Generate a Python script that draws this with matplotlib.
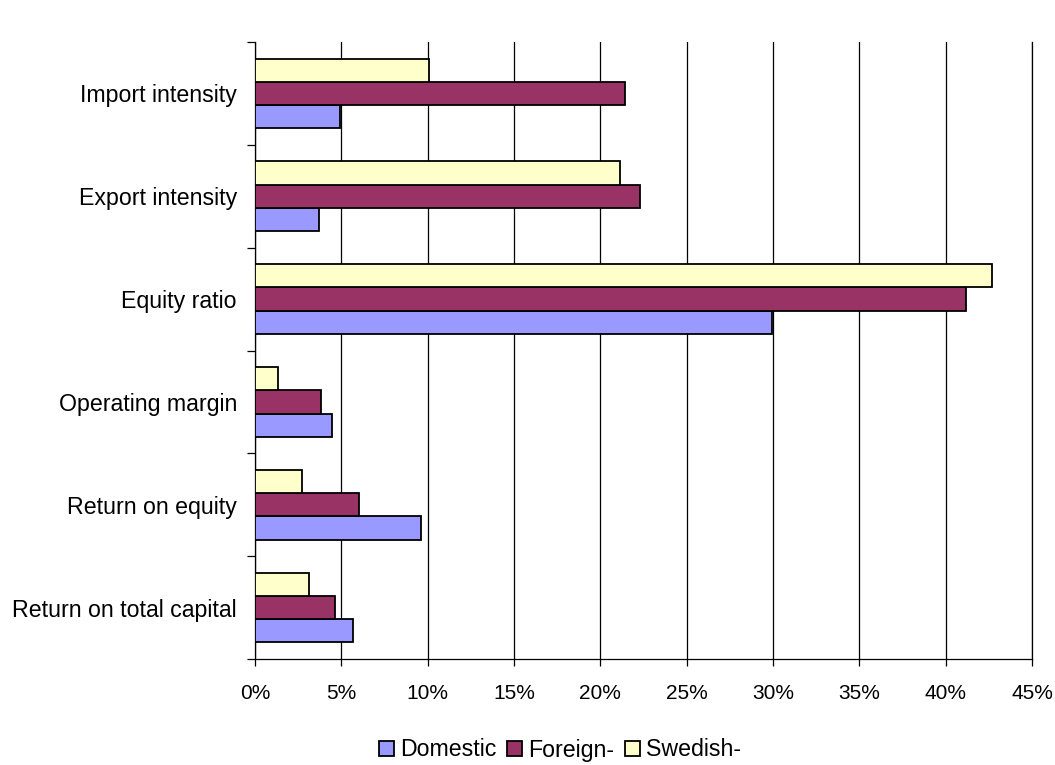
import numpy as np
import matplotlib
matplotlib.use('Agg')
import matplotlib.pyplot as plt
from matplotlib.ticker import PercentFormatter, MultipleLocator

plt.rcParams['font.family'] = ['Liberation Sans', 'DejaVu Sans']

categories = ['Return on total capital', 'Return on equity', 'Operating margin',
              'Equity ratio', 'Export intensity', 'Import intensity']
domestic = [5.7, 9.6, 4.45, 29.95, 3.7, 4.95]
foreign = [4.65, 6.0, 3.8, 41.15, 22.3, 21.45]
swedish = [3.1, 2.7, 1.35, 42.7, 21.15, 10.1]
series_names = ['Domestic', 'Foreign-', 'Swedish-']
colors = ['#9999FF', '#993366', '#FFFFCC']

fig = plt.figure(figsize=(10.55, 7.65), dpi=100)
ax = fig.add_axes([255 / 1055, 1 - 659 / 765, (1032 - 255) / 1055, (659 - 42) / 765])

y = np.arange(len(categories))
h = 0.226
for i, (vals, name, c) in enumerate(zip([domestic, foreign, swedish], series_names, colors)):
    ax.barh(y + (i - 1) * h, vals, height=h, color=c, edgecolor='black',
            linewidth=1.3, label=name, zorder=3)

ax.set_xlim(0, 45)
ax.set_ylim(-0.5, len(categories) - 0.5)
ax.xaxis.set_major_locator(MultipleLocator(5))
ax.xaxis.set_major_formatter(PercentFormatter(decimals=0))
ax.grid(axis='x', color='black', linewidth=0.9, zorder=0)

# category ticks sit on group boundaries, labels in the middle
ax.set_yticks(np.arange(-0.5, len(categories), 1))
ax.set_yticklabels([])
ax.set_yticks(y, minor=True)
ax.set_yticklabels(categories, minor=True)
ax.tick_params(axis='y', which='minor', length=0, pad=13, labelsize=16.7)
ax.tick_params(axis='y', which='major', length=6, direction='out', width=0.9)
ax.tick_params(axis='x', length=5, direction='out', width=0.9, labelsize=15, pad=13)

ax.spines['top'].set_visible(False)
for s in ['left', 'bottom', 'right']:
    ax.spines[s].set_linewidth(0.9)

fig.legend(loc='center', bbox_to_anchor=(560 / 1055, 1 - 750 / 765), ncol=3,
           frameon=False, fontsize=16.7, handlelength=0.63, handleheight=0.63,
           handletextpad=0.26, columnspacing=0.47, borderpad=0.1)

fig.savefig('out.png', dpi=100)
